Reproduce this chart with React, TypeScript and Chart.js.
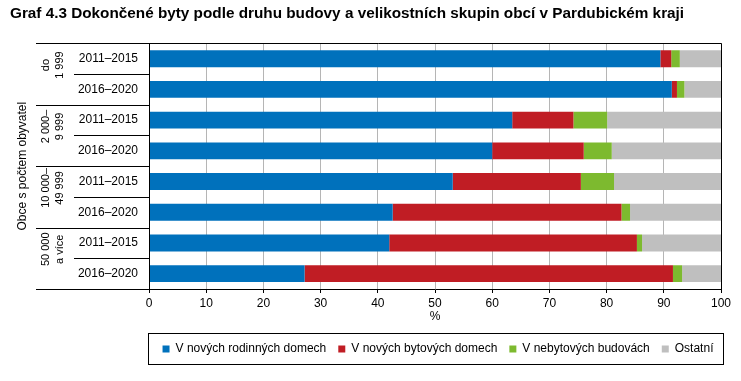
import React, { useEffect, useRef } from 'react';
import { Chart, registerables } from 'chart.js';

Chart.register(...registerables);

const chartTitle = 'Graf 4.3 Dokončené byty podle druhu budovy a velikostních skupin obcí v Pardubickém kraji';
const periods = ['2011–2015', '2016–2020', '2011–2015', '2016–2020', '2011–2015', '2016–2020', '2011–2015', '2016–2020'];
const groupLabels = [['do', '1 999'], ['2 000–', '9 999'], ['10 000–', '49 999'], ['50 000', 'a více']];
const yAxisTitle = 'Obce s počtem obyvatel';
const xAxisTitle = '%';
const seriesNames = ['V nových rodinných domech', 'V nových bytových domech', 'V nebytových budovách', 'Ostatní'];
const rodinne = [89.4, 91.4, 63.5, 60.0, 53.1, 42.6, 42.0, 27.2];
const bytove = [1.9, 0.9, 10.7, 16.0, 22.4, 40.0, 43.3, 64.4];
const nebytove = [1.5, 1.3, 5.9, 4.9, 5.8, 1.5, 0.9, 1.6];
const ostatni = [7.2, 6.4, 19.9, 19.1, 18.7, 15.9, 13.8, 6.8];
const seriesColors = ['#0071BC', '#C01D24', '#7DBA2F', '#BFBFBF'];

const FONT = "'Liberation Sans', Arial, Helvetica, sans-serif";

const decor = {
  id: 'decor',
  afterLayout(chart: any) {
    const lg = chart.legend;
    if (lg) {
      lg.left = 38;
      lg.right = 838;
      lg.width = 800;
    }
  },
  afterDraw(chart: any) {
    const { ctx, chartArea: ca } = chart;
    const y = chart.scales.y;
    const r = (v: number) => Math.round(v) + 0.5;
    const line = (x1: number, y1: number, x2: number, y2: number) => {
      ctx.beginPath();
      ctx.moveTo(x1, y1);
      ctx.lineTo(x2, y2);
      ctx.stroke();
    };
    ctx.save();
    ctx.strokeStyle = '#000';
    ctx.lineWidth = 1;
    // frame
    line(36, r(ca.top), r(ca.right), r(ca.top));
    line(r(ca.right), r(ca.top), r(ca.right), r(ca.bottom));
    line(r(ca.left), r(ca.top), r(ca.left), r(ca.bottom));
    line(36, r(ca.bottom), r(ca.left), r(ca.bottom));
    // separators
    for (let i = 1; i < periods.length; i++) {
      const py = r(y.getPixelForValue(i - 0.5));
      const x0 = i % 2 === 0 ? 36 : 74;
      line(x0, py, r(ca.left), py);
    }
    // group labels
    ctx.fillStyle = '#000';
    ctx.font = `11px ${FONT}`;
    ctx.textAlign = 'center';
    ctx.textBaseline = 'middle';
    groupLabels.forEach((lines, g) => {
      const cy = (y.getPixelForValue(2 * g) + y.getPixelForValue(2 * g + 1)) / 2 - 9;
      lines.forEach((t, k) => {
        ctx.save();
        ctx.translate(46 + k * 14, cy);
        ctx.rotate(-Math.PI / 2);
        ctx.fillText(t, 0, 0);
        ctx.restore();
      });
    });
    // legend frame
    ctx.strokeRect(148.5, 333.5, 575, 31);
    ctx.restore();
  },
};

export default function App() {
  const ref = useRef<HTMLCanvasElement | null>(null);
  useEffect(() => {
    if (!ref.current) return;
    Chart.defaults.font.family = FONT;
    Chart.defaults.font.size = 12;
    Chart.defaults.color = '#000';
    const dataSets = [rodinne, bytove, nebytove, ostatni].map((d, i) => ({
      label: seriesNames[i],
      data: d,
      backgroundColor: seriesColors[i],
      borderWidth: 0,
      barPercentage: 0.55,
      categoryPercentage: 1,
    }));
    const chart = new Chart(ref.current, {
      type: 'bar',
      data: { labels: periods, datasets: dataSets },
      options: {
        indexAxis: 'y',
        animation: false,
        responsive: false,
        devicePixelRatio: 1,
        layout: { padding: { left: 10, right: 20, top: 0, bottom: 16 } },
        scales: {
          x: {
            stacked: true,
            min: 0,
            max: 100,
            ticks: { stepSize: 10, padding: 3, color: '#000', font: { size: 12 } },
            grid: { color: '#b5b5b5', tickColor: '#000', tickLength: 4, drawTicks: true },
            border: { color: '#000' },
            title: { display: true, text: xAxisTitle, color: '#000', font: { size: 12 }, padding: { top: 0, bottom: 7 } },
            afterFit: (s: any) => { s.height = 42; },
          },
          y: {
            stacked: true,
            grid: { display: false, drawTicks: false },
            border: { display: false },
            ticks: { padding: 11, color: '#000', font: { size: 12 } },
            title: { display: true, text: yAxisTitle, color: '#000', font: { size: 12 }, padding: { top: 5, bottom: 0 } },
            afterFit: (s: any) => { s.width = 139; },
          },
        },
        plugins: {
          title: {
            display: true,
            text: chartTitle,
            align: 'start',
            color: '#000',
            font: { size: 15.3, weight: 'bold' },
            padding: { top: 5, bottom: 20 },
          },
          legend: {
            position: 'bottom',
            labels: { boxWidth: 7, boxHeight: 7, padding: 12, color: '#000', font: { size: 12 } },
          },
          tooltip: { enabled: false },
        },
      },
      plugins: [decor],
    } as any);
    return () => chart.destroy();
  }, []);
  return (
    <div style={{ position: 'fixed', left: 0, top: 0, width: 741, height: 381, background: '#fff' }}>
      <canvas ref={ref} width={741} height={381} style={{ width: 741, height: 381 }} />
    </div>
  );
}
